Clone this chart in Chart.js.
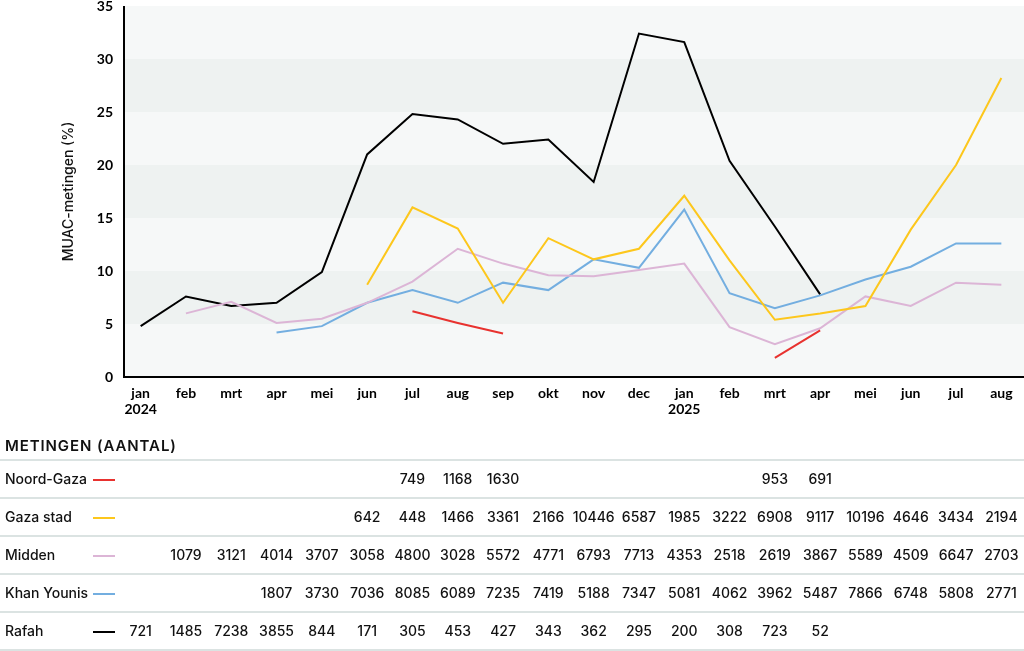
<!DOCTYPE html>
<html>
<head>
<meta charset="utf-8">
<script src="https://cdn.jsdelivr.net/npm/chart.js@4/dist/chart.umd.min.js"></script>
<style>
  html, body { margin: 0; padding: 0; background: #fff; overflow: hidden; }
  #wrap { position: absolute; left: 0; top: -6px; width: 1024px; height: 657px; }
</style>
</head>
<body>
<div id="wrap"><canvas id="chart"></canvas></div>
<script>
const months = [['jan', '2024'], 'feb', 'mrt', 'apr', 'mei', 'jun', 'jul', 'aug', 'sep', 'okt', 'nov', 'dec',
  ['jan', '2025'], 'feb', 'mrt', 'apr', 'mei', 'jun', 'jul', 'aug'];

const yTicks = [0, 5, 10, 15, 20, 25, 30, 35];

// MUAC (%) per regio
const noordGaza = [null, null, null, null, null, null, 6.2, 5.1, 4.1, null, null, null, null, null, 1.8, 4.4, null, null, null, null];
const gazaStad = [null, null, null, null, null, 8.7, 16.0, 14.0, 7.0, 13.1, 11.1, 12.1, 17.1, 11.0, 5.4, 6.0, 6.7, 13.9, 20.0, 28.2];
const midden = [null, 6.0, 7.1, 5.1, 5.5, 7.0, 9.0, 12.1, 10.7, 9.6, 9.5, 10.1, 10.7, 4.7, 3.1, 4.6, 7.6, 6.7, 8.9, 8.7];
const khanYounis = [null, null, null, 4.2, 4.8, 7.0, 8.2, 7.0, 8.9, 8.2, 11.1, 10.3, 15.8, 7.9, 6.5, 7.7, 9.2, 10.4, 12.6, 12.6];
const rafah = [4.8, 7.6, 6.7, 7.0, 9.9, 21.0, 24.8, 24.3, 22.0, 22.4, 18.4, 32.4, 31.6, 20.4, 14.2, 7.8, null, null, null, null];

// metingen (aantal)
const nNoordGaza = [null, null, null, null, null, null, 749, 1168, 1630, null, null, null, null, null, 953, 691, null, null, null, null];
const nGazaStad = [null, null, null, null, null, 642, 448, 1466, 3361, 2166, 10446, 6587, 1985, 3222, 6908, 9117, 10196, 4646, 3434, 2194];
const nMidden = [null, 1079, 3121, 4014, 3707, 3058, 4800, 3028, 5572, 4771, 6793, 7713, 4353, 2518, 2619, 3867, 5589, 4509, 6647, 2703];
const nKhanYounis = [null, null, null, 1807, 3730, 7036, 8085, 6089, 7235, 7419, 5188, 7347, 5081, 4062, 3962, 5487, 7866, 6748, 5808, 2771];
const nRafah = [721, 1485, 7238, 3855, 844, 171, 305, 453, 427, 343, 362, 295, 200, 308, 723, 52, null, null, null, null];

const regions = ['Noord-Gaza', 'Gaza stad', 'Midden', 'Khan Younis', 'Rafah'];
const colors = ['#e8322f', '#fdc71c', '#dcb5d6', '#73aee0', '#000000'];
const series = [noordGaza, gazaStad, midden, khanYounis, rafah];
const counts = [nNoordGaza, nGazaStad, nMidden, nKhanYounis, nRafah];

const FONT = 'Lato, "Noto Sans", sans-serif';
const FONT_TABLE = 'Inter, Lato, sans-serif';
const AXIS_X = 124;
const SHIFT = 6; // canvas staat 6px hoger dan de pagina

// achtergrondbanden + assen
const bandsPlugin = {
  id: 'bands',
  beforeDatasetsDraw(chart) {
    const { ctx, chartArea, scales: { y } } = chart;
    ctx.save();
    for (let i = 0; i < yTicks.length - 1; i++) {
      const top = y.getPixelForValue(yTicks[i + 1]);
      const bottom = y.getPixelForValue(yTicks[i]);
      ctx.fillStyle = i % 2 === 1 ? '#eef2f1' : '#f6f8f8';
      ctx.fillRect(AXIS_X, top, chartArea.right - AXIS_X, bottom - top);
    }
    ctx.restore();
  },
  afterDatasetsDraw(chart) {
    const { ctx, chartArea, scales: { y } } = chart;
    ctx.save();
    ctx.strokeStyle = '#000';
    ctx.lineWidth = 2;
    ctx.beginPath();
    ctx.moveTo(AXIS_X, y.getPixelForValue(35));
    ctx.lineTo(AXIS_X, chartArea.bottom);
    ctx.lineTo(chartArea.right, chartArea.bottom);
    ctx.stroke();
    ctx.restore();
  }
};

// tabel met aantallen onder de grafiek
const tablePlugin = {
  id: 'table',
  afterDraw(chart) {
    const { ctx, scales: { x } } = chart;
    const lines = [460, 498, 536, 574, 612, 650].map(v => v + SHIFT);
    ctx.save();
    ctx.fillStyle = '#111';
    ctx.font = '600 15px ' + FONT_TABLE;
    ctx.textBaseline = 'middle';
    ctx.textAlign = 'left';
    if ('letterSpacing' in ctx) ctx.letterSpacing = '0.9px';
    ctx.fillText('METINGEN (AANTAL)', 5, 446 + SHIFT);
    if ('letterSpacing' in ctx) ctx.letterSpacing = '0px';

    ctx.strokeStyle = '#cfdad8';
    ctx.lineWidth = 1.5;
    lines.forEach(ly => {
      ctx.beginPath();
      ctx.moveTo(0, ly);
      ctx.lineTo(1024, ly);
      ctx.stroke();
    });

    regions.forEach((name, r) => {
      const cy = (lines[r] + lines[r + 1]) / 2 + 1;
      ctx.fillStyle = '#111';
      ctx.font = '500 14px ' + FONT_TABLE;
      ctx.textAlign = 'left';
      ctx.fillText(name, 5, cy);
      ctx.strokeStyle = colors[r];
      ctx.lineWidth = 2;
      ctx.beginPath();
      ctx.moveTo(93, cy);
      ctx.lineTo(115, cy);
      ctx.stroke();
      ctx.textAlign = 'center';
      counts[r].forEach((v, i) => {
        if (v === null) return;
        ctx.fillText(String(v), x.getPixelForValue(i), cy);
      });
    });
    ctx.restore();
  }
};

new Chart(document.getElementById('chart'), {
  type: 'line',
  data: {
    labels: months,
    datasets: regions.map((name, i) => ({
      label: name,
      data: series[i],
      borderColor: colors[i],
      borderWidth: 2,
      pointRadius: 0,
      tension: 0,
      spanGaps: false
    }))
  },
  options: {
    responsive: true,
    maintainAspectRatio: false,
    animation: false,
    layout: { padding: { left: 0, right: 0, top: 0, bottom: 234 } },
    plugins: {
      legend: { display: false },
      tooltip: { enabled: false }
    },
    scales: {
      x: {
        offset: true,
        grid: { display: false, drawTicks: false },
        border: { display: false },
        ticks: {
          color: '#000',
          padding: 8,
          maxRotation: 0,
          autoSkip: false,
          font: { family: FONT, size: 14, weight: 'bold', lineHeight: 1.15 }
        },
        afterFit(scale) { scale.height = 40; }
      },
      y: {
        min: 0,
        max: 35,
        grid: { display: false, drawTicks: false },
        border: { display: false },
        ticks: {
          stepSize: 5,
          color: '#000',
          padding: 5,
          font: { family: FONT, size: 14, weight: 'bold', lineHeight: 1 }
        },
        title: {
          display: true,
          text: 'MUAC-metingen (%)',
          color: '#111',
          padding: { top: 60, bottom: 0 },
          font: { family: FONT_TABLE, size: 14, weight: '500' }
        },
        afterFit(scale) { scale.width = 118; }
      }
    }
  },
  plugins: [bandsPlugin, tablePlugin]
});
</script>
</body>
</html>
